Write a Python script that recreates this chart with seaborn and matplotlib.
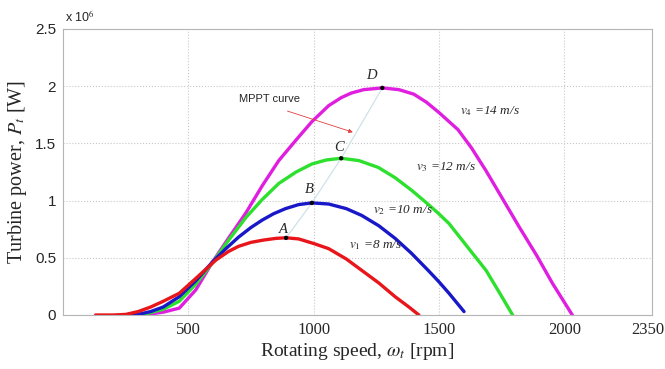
import matplotlib
matplotlib.use("Agg")
import matplotlib.pyplot as plt
import matplotlib.transforms as mtransforms
import seaborn as sns
import pandas as pd

# ---- data (power in units of 1e6 W) ----
speed_v1 = [130, 200, 250, 300, 350, 400, 464, 530, 610, 660, 700, 750, 800, 850, 890, 940,
            1000, 1060, 1130, 1192, 1260, 1325, 1380, 1420]
power_v1 = [0.0, 0.0, 0.005, 0.03, 0.07, 0.12, 0.19, 0.32, 0.48, 0.555, 0.60, 0.635, 0.655, 0.670,
            0.675, 0.665, 0.625, 0.58, 0.49, 0.39, 0.28, 0.16, 0.07, 0.0]

speed_v2 = [250, 300, 350, 400, 464, 530, 597, 650, 700, 750, 795, 840, 888, 940, 993, 1060,
            1130, 1192, 1260, 1325, 1390, 1457, 1500, 1540, 1600]
power_v2 = [0.0, 0.005, 0.03, 0.07, 0.16, 0.30, 0.465, 0.58, 0.68, 0.765, 0.83, 0.885, 0.93, 0.965,
            0.98, 0.97, 0.93, 0.87, 0.78, 0.67, 0.54, 0.39, 0.29, 0.19, 0.03]

speed_v3 = [280, 330, 400, 464, 530, 597, 663, 729, 795, 861, 930, 993, 1050, 1110, 1180, 1258,
            1325, 1391, 1445, 1497, 1540, 1576, 1630, 1688, 1740, 1794]
power_v3 = [0.0, 0.01, 0.05, 0.12, 0.27, 0.46, 0.66, 0.85, 1.01, 1.15, 1.25, 1.32, 1.355, 1.37,
            1.35, 1.29, 1.20, 1.09, 0.99, 0.89, 0.80, 0.70, 0.55, 0.39, 0.20, 0.0]

speed_v4 = [320, 400, 464, 530, 597, 663, 729, 795, 861, 930, 993, 1060, 1110, 1150, 1200, 1274,
            1340, 1400, 1450, 1500, 1576, 1630, 1688, 1750, 1820, 1890, 1952, 2032]
power_v4 = [0.0, 0.025, 0.06, 0.22, 0.465, 0.68, 0.89, 1.13, 1.35, 1.53, 1.69, 1.83, 1.90, 1.94,
            1.97, 1.985, 1.97, 1.93, 1.86, 1.77, 1.62, 1.46, 1.26, 1.03, 0.77, 0.52, 0.28, 0.0]

mppt_labels = ["A", "B", "C", "D"]
mppt_speed = [890, 993, 1110, 1274]
mppt_power = [0.674, 0.98, 1.37, 1.985]

series_names = ["v4", "v3", "v2", "v1"]
series_colors = {"v1": "#e8161b", "v2": "#1818c8", "v3": "#2ee02e", "v4": "#e01ee0"}
speed_labels = [("v4", "4", "14"), ("v3", "3", "12"), ("v2", "2", "10"), ("v1", "1", "8")]
label_pos = {"v1": (1140, 0.615), "v2": (1238, 0.915), "v3": (1409, 1.29), "v4": (1583, 1.78)}

x_ticks = [500, 1000, 1500, 2000, 2350]
y_ticks = [0, 0.5, 1, 1.5, 2, 2.5]
y_ticklabels = ["0", "0.5", "1", "1.5", "2", "2.5"]

# ---- build table ----
frames = []
for name, s, p in [("v4", speed_v4, power_v4), ("v3", speed_v3, power_v3),
                   ("v2", speed_v2, power_v2), ("v1", speed_v1, power_v1)]:
    frames.append(pd.DataFrame({"speed": s, "power": p, "series": name}))
df = pd.concat(frames, ignore_index=True)

sns.set_style("white")
plt.rcParams["mathtext.fontset"] = "stix"
SERIF = "Liberation Serif"
SANS = "Liberation Sans"

fig = plt.figure(figsize=(6.65, 3.69), dpi=100)
ax = fig.add_axes([63 / 665, 1 - 315 / 369, (652 - 63) / 665, (315 - 29) / 369])

# MPPT curve (faint)
mppt_df = pd.DataFrame({"speed": mppt_speed, "power": mppt_power})
sns.lineplot(data=mppt_df, x="speed", y="power", ax=ax, color="#cfe2ea", lw=0.9, sort=False)

sns.lineplot(data=df, x="speed", y="power", hue="series", hue_order=series_names,
             palette=series_colors, ax=ax, lw=2.4, sort=False, estimator=None, legend=False)

sns.scatterplot(data=mppt_df, x="speed", y="power", ax=ax, color="black", s=10, zorder=5,
                edgecolor="none")

# point labels
label_offsets = {"A": (-10, 0.07), "B": (-10, 0.12), "C": (-10, 0.09), "D": (-45, 0.11)}
for lab, s, p in zip(mppt_labels, mppt_speed, mppt_power):
    dx, dy = label_offsets[lab]
    ax.text(s + dx, p + dy, lab, family=SERIF, style="italic", fontsize=10.5,
            ha="center", va="center")

# speed labels
for name, sub, val in speed_labels:
    x, y = label_pos[name]
    ax.text(x, y, r"$v_{%s}$" % sub + " =%s m/s" % val, family=SERIF, style="italic",
            fontsize=9.5, ha="left", va="center")

# MPPT annotation
ax.annotate("", xy=(1167, 1.59), xytext=(885, 1.79),
            arrowprops=dict(arrowstyle="-|>", color="#e04040", lw=0.6, mutation_scale=6))
ax.text(702, 1.885, "MPPT curve", family=SANS, fontsize=8, ha="left", va="center")

ax.set_xlim(0, 2350)
ax.set_ylim(0, 2.5)
ax.set_xticks(x_ticks)
ax.set_xticklabels([str(t) for t in x_ticks], family=SERIF, fontsize=12)
ax.set_yticks(y_ticks)
ax.set_yticklabels(y_ticklabels, family=SANS, fontsize=11)
ax.tick_params(axis="both", length=0, pad=5)
ax.grid(True, color="#c8c8c8", ls=":", lw=0.8)
for sp in ax.spines.values():
    sp.set_color("#b5b5b5")
    sp.set_linewidth(0.8)

last = ax.get_xticklabels()[-1]
last.set_horizontalalignment("right")
last.set_transform(last.get_transform() + mtransforms.ScaledTranslation(12 / 100, 0, fig.dpi_scale_trans))

ax.set_xlabel(r"Rotating speed, $\omega_t$ [rpm]", family=SERIF, fontsize=14, labelpad=2)
ax.set_ylabel(r"Turbine power, $P_t$ [W]", family=SERIF, fontsize=14.5, labelpad=4)

fig.text(65 / 665, 1 - 17 / 369, r"x 10$^6$", family=SANS, fontsize=9, ha="left", va="center")

fig.savefig("out.png", dpi=100)
